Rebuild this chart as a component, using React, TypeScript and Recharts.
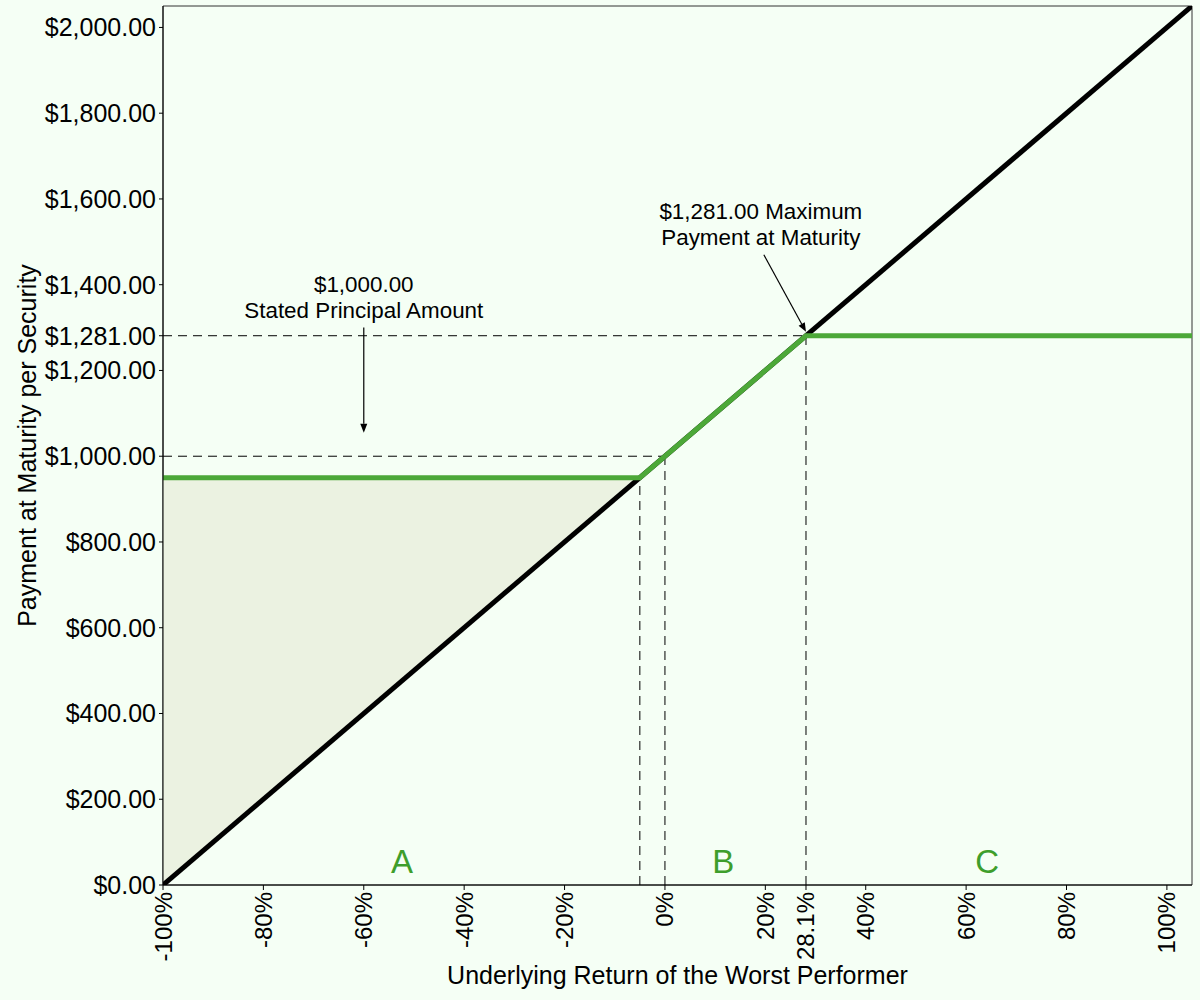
import {
  ComposedChart,
  Line,
  Area,
  XAxis,
  YAxis,
  ReferenceLine,
  ReferenceDot,
  ReferenceArea,
} from "recharts";

// payoff of the security vs. the underlying
const payoffX = [-100, -5, 28.1, 105];
const payoffY = [950, 950, 1281, 1281];
const underlyingX = [-100, 105];
const underlyingY = [0, 2050];
// shaded region between the buffer floor and the underlying
const shadeX = [-100, -5];
const shadeLow = [0, 950];
const shadeHigh = [950, 950];

const xTicks = [-100, -80, -60, -40, -20, 0, 20, 28.1, 40, 60, 80, 100];
const yTicks = [0, 200, 400, 600, 800, 1000, 1200, 1281, 1400, 1600, 1800, 2000];

// dashed guides: [x1, y1, x2, y2]
const guides = [
  [-100, 1000, 0, 1000],
  [0, 0, 0, 1000],
  [-5, 0, -5, 950],
  [-100, 1281, 28.1, 1281],
  [28.1, 0, 28.1, 1281],
];

const notes = [
  { x: -60, y: 1400, text: "$1,000.00" },
  { x: -60, y: 1340, text: "Stated Principal Amount" },
  { x: 19.1, y: 1571, text: "$1,281.00 Maximum" },
  { x: 19.1, y: 1510, text: "Payment at Maturity" },
];
const arrows = [
  [-60, 1300, -60, 1055],
  [19.7, 1470, 28.1, 1290],
];
const regions = [
  { x: -52.4, y: 54, text: "A" },
  { x: 11.6, y: 54, text: "B" },
  { x: 64.2, y: 54, text: "C" },
];

const BG = "#f5fff5";
const GREEN = "#4ca838";
const FONT = "'Liberation Sans', Arial, sans-serif";

const payoffData = payoffX.map((x, i) => ({ x, y: payoffY[i] }));
const underlyingData = underlyingX.map((x, i) => ({ x, y: underlyingY[i] }));
const shadeData = shadeX.map((x, i) => ({ x, range: [shadeLow[i], shadeHigh[i]] }));

const fmtMoney = (v: number) =>
  "$" + v.toLocaleString("en-US", { minimumFractionDigits: 2, maximumFractionDigits: 2 });

function XTick(props: any) {
  const { x, y, payload } = props;
  return (
    <text
      x={x}
      y={y}
      transform={`rotate(-90, ${x}, ${y})`}
      textAnchor="end"
      dominantBaseline="central"
      fontSize={24}
      fontFamily={FONT}
      fill="#000"
    >
      {payload.value}%
    </text>
  );
}

function YTick(props: any) {
  const { x, y, payload } = props;
  return (
    <text
      x={x}
      y={y}
      textAnchor="end"
      dominantBaseline="central"
      fontSize={25}
      fontFamily={FONT}
      fill="#000"
    >
      {fmtMoney(payload.value)}
    </text>
  );
}

function Arrow(props: any) {
  const { x1, y1, x2, y2 } = props;
  const a = Math.atan2(y2 - y1, x2 - x1);
  const len = 9;
  const w = 3.5;
  const bx = x2 - len * Math.cos(a);
  const by = y2 - len * Math.sin(a);
  const px = -Math.sin(a) * w;
  const py = Math.cos(a) * w;
  return (
    <g>
      <line x1={x1} y1={y1} x2={bx} y2={by} stroke="#000" strokeWidth={1.2} />
      <polygon
        points={`${x2},${y2} ${bx + px},${by + py} ${bx - px},${by - py}`}
        fill="#000"
      />
    </g>
  );
}

export default function App() {
  return (
    <div style={{ width: 1200, height: 1000, background: BG }}>
      <style>{`body{margin:0;background:${BG};}`}</style>
      <ComposedChart
        width={1200}
        height={1000}
        margin={{ top: 6, right: 8, left: 0, bottom: 0 }}
      >
        <XAxis
          type="number"
          dataKey="x"
          domain={[-100, 105]}
          ticks={xTicks}
          interval={0}
          allowDataOverflow
          height={115}
          tickSize={5}
          tickMargin={2}
          stroke="#000"
          tick={XTick}
          label={(p: any) => {
            const vb = p.viewBox;
            return (
              <text
                x={vb.x + vb.width / 2}
                y={vb.y + 90}
                textAnchor="middle"
                dominantBaseline="central"
                fontSize={25}
                fontFamily={FONT}
                fill="#000"
              >
                Underlying Return of the Worst Performer
              </text>
            );
          }}
        />
        <YAxis
          type="number"
          domain={[0, 2050]}
          ticks={yTicks}
          interval={0}
          allowDataOverflow
          width={163}
          tickSize={4}
          tickMargin={3}
          stroke="#000"
          tick={YTick}
          label={(p: any) => {
            const vb = p.viewBox;
            const cx = vb.x + 27;
            const cy = vb.y + vb.height / 2;
            return (
              <text
                x={cx}
                y={cy}
                transform={`rotate(-90, ${cx}, ${cy})`}
                textAnchor="middle"
                dominantBaseline="central"
                fontSize={25}
                fontFamily={FONT}
                fill="#000"
              >
                Payment at Maturity per Security
              </text>
            );
          }}
        />
        <ReferenceArea
          x1={-100}
          x2={105}
          y1={0}
          y2={2050}
          fill="none"
          stroke="#333"
          strokeWidth={1}
        />
        <Area
          data={shadeData}
          dataKey="range"
          type="linear"
          fill="#ebf2e1"
          fillOpacity={1}
          stroke="none"
          isAnimationActive={false}
        />
        {guides.map((g, i) => (
          <ReferenceLine
            key={"g" + i}
            segment={[
              { x: g[0], y: g[1] },
              { x: g[2], y: g[3] },
            ]}
            stroke="#000"
            strokeWidth={1}
            strokeDasharray="9 6"
          />
        ))}
        <Line
          data={underlyingData}
          dataKey="y"
          type="linear"
          stroke="#000"
          strokeWidth={5}
          dot={false}
          isAnimationActive={false}
        />
        <Line
          data={payoffData}
          dataKey="y"
          type="linear"
          stroke={GREEN}
          strokeWidth={5}
          dot={false}
          isAnimationActive={false}
        />
        {arrows.map((a, i) => (
          <ReferenceLine
            key={"a" + i}
            segment={[
              { x: a[0], y: a[1] },
              { x: a[2], y: a[3] },
            ]}
            shape={Arrow}
          />
        ))}
        {notes.map((n, i) => (
          <ReferenceDot
            key={"n" + i}
            x={n.x}
            y={n.y}
            r={0}
            shape={(p: any) => (
              <text
                x={p.cx}
                y={p.cy}
                textAnchor="middle"
                dominantBaseline="central"
                fontSize={22.4}
                fontFamily={FONT}
                fill="#000"
              >
                {n.text}
              </text>
            )}
          />
        ))}
        {regions.map((r, i) => (
          <ReferenceDot
            key={"r" + i}
            x={r.x}
            y={r.y}
            r={0}
            shape={(p: any) => (
              <text
                x={p.cx}
                y={p.cy}
                textAnchor="middle"
                dominantBaseline="central"
                fontSize={33}
                fontFamily={FONT}
                fill="#3e9e2c"
              >
                {r.text}
              </text>
            )}
          />
        ))}
      </ComposedChart>
    </div>
  );
}
